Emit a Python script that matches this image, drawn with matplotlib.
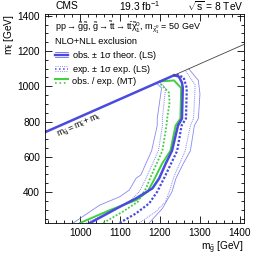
import matplotlib
matplotlib.use('Agg')
import matplotlib.pyplot as plt
from matplotlib.lines import Line2D
from matplotlib.legend_handler import HandlerBase
from matplotlib.ticker import MultipleLocator

plt.rcParams['font.family'] = ['Liberation Sans', 'DejaVu Sans']
plt.rcParams['mathtext.fontset'] = 'custom'
plt.rcParams['mathtext.rm'] = 'Liberation Sans'
plt.rcParams['mathtext.it'] = 'Liberation Sans'
plt.rcParams['mathtext.bf'] = 'Liberation Sans:bold'

M_TOP = 173

# observed limit (LS), thick solid
obs_x = [1025, 1099, 1140, 1181, 1198, 1214, 1230, 1245, 1255, 1257, 1255, 1247, 1235]
obs_y = [225, 316, 364, 421, 478, 560, 634, 777, 817, 990, 1020, 1055, 1062]
# observed +- 1 sigma theory
obs_lo_x = [983, 1049, 1099, 1123, 1140, 1152, 1179, 1193, 1193, 1204, 1191]
obs_lo_y = [225, 326, 373, 411, 478, 497, 634, 777, 817, 990, 1018]
obs_hi_x = [1173, 1206, 1230, 1240, 1258, 1276, 1286, 1296, 1300, 1296, 1272]
obs_hi_y = [225, 307, 402, 478, 560, 634, 777, 817, 956, 1033, 1099]
# expected limit (LS), thick dotted
exp_x = [1099, 1140, 1173, 1193, 1210, 1243, 1254, 1265, 1267, 1259, 1240]
exp_y = [225, 279, 336, 402, 478, 634, 777, 817, 990, 1050, 1067]
# expected +- 1 sigma experimental
exp_lo_x = [1016, 1074, 1123, 1148, 1165, 1196, 1206, 1206, 1214, 1198]
exp_lo_y = [225, 288, 345, 402, 478, 634, 777, 817, 990, 1025]
exp_hi_x = [1148, 1189, 1214, 1226, 1235, 1263, 1276, 1284, 1288, 1263]
exp_hi_y = [225, 288, 345, 421, 488, 634, 777, 817, 1007, 1090]
# MT analysis, observed and expected
mt_obs_x = [1000, 1074, 1140, 1169, 1185, 1205, 1226, 1239, 1251, 1253, 1235, 1200]
mt_obs_y = [225, 297, 354, 402, 469, 560, 634, 777, 817, 990, 1033, 1027]
mt_exp_x = [1058, 1107, 1144, 1165, 1177, 1206, 1216, 1218, 1224, 1222, 1198]
mt_exp_y = [225, 289, 344, 421, 488, 634, 777, 817, 910, 966, 1020]

diag_end = 1235

BLUE = '#4a4ae0'
LBLUE = '#6a6af0'
GREEN = '#3ecf3e'


class MultiLineHandler(HandlerBase):
    def __init__(self, styles):
        super().__init__()
        self.styles = styles

    def create_artists(self, legend, orig_handle, xdescent, ydescent,
                       width, height, fontsize, trans):
        arts = []
        for frac, ls, lw, color in self.styles:
            y = frac * height - ydescent
            ln = Line2D([-xdescent, width - xdescent], [y, y],
                        linestyle=ls, linewidth=lw, color=color)
            ln.set_transform(trans)
            arts.append(ln)
        return arts


fig = plt.figure(figsize=(2.57, 2.58), dpi=100)
ax = fig.add_axes([0.175, 0.136, 0.774, 0.81])

ax.plot(obs_lo_x, obs_lo_y, color=LBLUE, lw=0.6, alpha=0.8)
ax.plot(obs_hi_x, obs_hi_y, color=LBLUE, lw=0.6, alpha=0.8)
ax.plot(exp_lo_x, exp_lo_y, color=LBLUE, lw=0.7, ls=(0, (1, 1)), alpha=0.8)
ax.plot(exp_hi_x, exp_hi_y, color=LBLUE, lw=0.7, ls=(0, (1, 1)), alpha=0.8)
ax.plot(mt_exp_x, mt_exp_y, color=GREEN, lw=1.3, ls=(0, (1, 1)))
ax.plot(mt_obs_x, mt_obs_y, color=GREEN, lw=1.4)
ax.plot(exp_x, exp_y, color=BLUE, lw=1.6, ls=(0, (1, 0.8)))
ax.plot(obs_x, obs_y, color=BLUE, lw=1.8)

# kinematic limit m_gluino = m_stop + m_top
xmin, xmax = 912, 1410
ax.plot([xmin, diag_end], [xmin - M_TOP, diag_end - M_TOP], color=BLUE, lw=1.8)
ax.plot([diag_end, xmax], [diag_end - M_TOP, xmax - M_TOP], color='#444444', lw=0.6)
ax.text(938, 755, r'$\mathrm{m_{\tilde{g}} = m_{\tilde{t}} + m_{t}}$', fontsize=6.3,
        rotation=45, transform_rotates_text=True, rotation_mode='anchor',
        ha='left', va='top')

ax.set_xlim(xmin, xmax)
ax.set_ylim(225, 1410)
ax.xaxis.set_major_locator(MultipleLocator(100))
ax.xaxis.set_minor_locator(MultipleLocator(20))
ax.yaxis.set_major_locator(MultipleLocator(200))
ax.yaxis.set_minor_locator(MultipleLocator(50))
ax.tick_params(which='both', direction='in', top=True, right=True, labelsize=7.3)
ax.tick_params(which='major', length=5, width=0.6)
ax.tick_params(which='minor', length=2.5, width=0.6)
for s in ax.spines.values():
    s.set_linewidth(0.6)

ax.set_xlabel(r'$\mathrm{m_{\tilde{g}}}$ [GeV]', fontsize=7.3, loc='right', labelpad=1)
ax.set_ylabel(r'$\mathrm{m_{\tilde{t}}}$ [GeV]', fontsize=7.3, loc='top', labelpad=1)

fig.text(0.26, 0.976, 'CMS', fontsize=7.4, ha='center', va='center')
fig.text(0.545, 0.976, r'19.3 fb$^{-1}$', fontsize=7.4, ha='center', va='center')
fig.text(0.837, 0.976, r'$\sqrt{\mathrm{s}}$ = 8 TeV', fontsize=7.4, ha='center', va='center')

ax.text(0.05, 0.972,
        r'pp$\rightarrow\mathrm{\tilde{g}\tilde{g}}$, $\mathrm{\tilde{g}\rightarrow\tilde{t}t\rightarrow t\bar{t}\tilde{\chi}^0_1}$, m$_{\mathrm{\tilde{\chi}^0_1}}$ = 50 GeV',
        transform=ax.transAxes, fontsize=6.5, va='top', ha='left')
ax.text(0.05, 0.888, 'NLO+NLL exclusion', transform=ax.transAxes,
        fontsize=6.7, va='top', ha='left')

h_obs, h_exp, h_mt = object(), object(), object()
handlers = {
    h_obs: MultiLineHandler([(0.1, '-', 0.6, LBLUE), (0.5, '-', 1.7, BLUE), (0.9, '-', 0.6, LBLUE)]),
    h_exp: MultiLineHandler([(0.1, ':', 0.6, LBLUE), (0.5, ':', 1.1, BLUE), (0.9, ':', 0.6, LBLUE)]),
    h_mt: MultiLineHandler([(0.75, '-', 1.4, GREEN), (0.25, ':', 1.2, GREEN)]),
}
labels = ['obs. $\\pm$ 1$\\sigma$ theor. (LS)', 'exp. $\\pm$ 1$\\sigma$ exp. (LS)', 'obs. / exp. (MT)']
ax.legend([h_obs, h_exp, h_mt], labels, handler_map=handlers, loc='upper left',
          bbox_to_anchor=(0.05, 0.832), frameon=False, fontsize=6.6,
          handlelength=1.4, handletextpad=0.5, labelspacing=0.12, borderpad=0,
          borderaxespad=0)

fig.savefig('out.png', dpi=100)
